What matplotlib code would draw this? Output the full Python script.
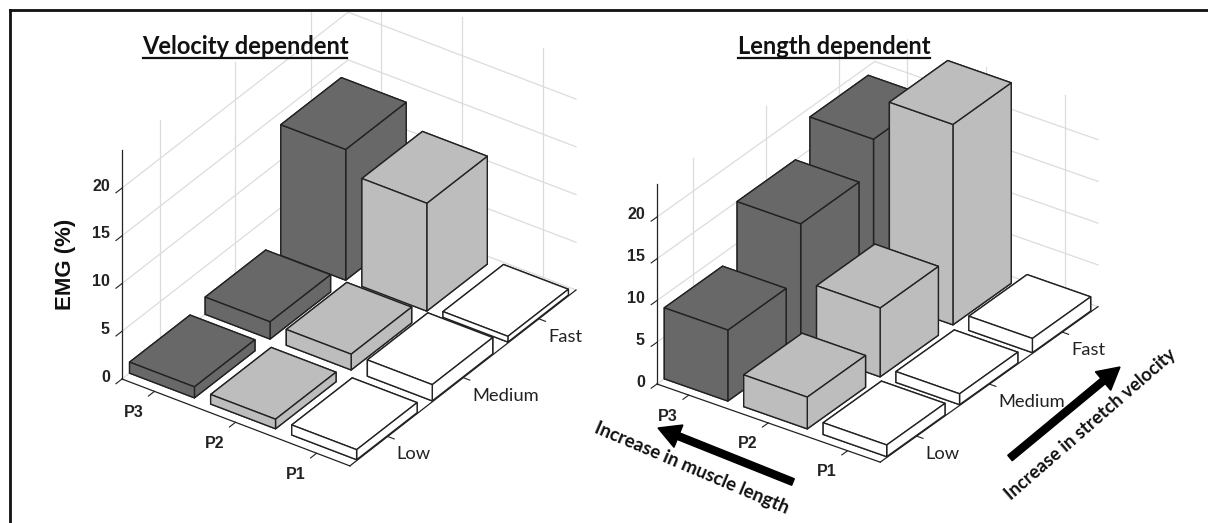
import matplotlib
matplotlib.use("Agg")
import matplotlib.pyplot as plt
from matplotlib.patches import Rectangle, FancyArrow
from mpl_toolkits.mplot3d import Axes3D, proj3d

W, H = 1208, 523

positions = ["P3", "P2", "P1"]
velocities = ["Low", "Medium", "Fast"]
z_ticks = [0, 5, 10, 15, 20]

# rows are P3, P2, P1 / columns are Low, Medium, Fast
velocity_emg = [[1.15, 1.8, 13.7],
                [1.0, 1.65, 11.3],
                [1.05, 1.7, 0.6]]
length_emg = [[8.5, 15.0, 18.9],
              [3.8, 8.25, 24.0],
              [1.4, 1.3, 1.7]]

row_colors = ["#686868", "#bdbdbd", "#ffffff"]
grid_color = "#dcdcdc"

XLIM = (0.6, 3.41)
YLIM = (0.5, 3.49)
ZLIM = (0, 24)
NUM_FONT = ["Liberation Sans Narrow", "Liberation Sans"]


def to_px(ax, x, y, z):
    xp, yp, _ = proj3d.proj_transform(x, y, z, ax.get_proj())
    return ax.transData.transform((xp, yp))


def fit_axes(ax, left_px, right_px):
    # move and scale the square 3d axes so the floor corners land on the wanted pixels
    fig.canvas.draw()
    a = to_px(ax, XLIM[0], YLIM[0], 0)
    c = to_px(ax, XLIM[1], YLIM[1], 0)
    k = (right_px[0] - left_px[0]) / (c[0] - a[0])
    size = ax.get_position().width * W * k
    ax.set_position([0, 0, size / W, size / H])
    fig.canvas.draw()
    a = to_px(ax, XLIM[0], YLIM[0], 0)
    pos = ax.get_position()
    dx = left_px[0] - a[0]
    dy = (H - left_px[1]) - a[1]
    ax.set_position([pos.x0 + dx / W, pos.y0 + dy / H, pos.width, pos.height])
    fig.canvas.draw()


def label_at(ax, x, y, z, dx, dy, s, **kw):
    # tick labels sit at a pixel offset from their place on the 3d axis
    p = to_px(ax, x, y, z)
    fig.text((p[0] + dx) / W, (p[1] - dy) / H, s, va="center", color="#222222", zorder=7, **kw)


def draw_panel(rect, heights, elev, lengths, left_px, right_px):
    ax = fig.add_axes(rect, projection="3d", proj_type="ortho", computed_zorder=False)
    ax.view_init(elev=elev, azim=-55)
    ax.set_box_aspect(lengths)
    ax.set_xlim(*XLIM)
    ax.set_ylim(*YLIM)
    ax.set_zlim(*ZLIM)
    ax.set_axis_off()
    ax.patch.set_alpha(0)

    xpos = [1, 2, 3]
    ypos = [1, 2, 3]
    tick = 0.08

    # walls
    for z in z_ticks:
        ax.plot([XLIM[0], XLIM[0]], YLIM, [z, z], color=grid_color, lw=0.9, zorder=1, clip_on=False)
        ax.plot(XLIM, [YLIM[1], YLIM[1]], [z, z], color=grid_color, lw=0.9, zorder=1, clip_on=False)
    for y in ypos:
        ax.plot([XLIM[0]] * 2, [y, y], ZLIM, color=grid_color, lw=0.9, zorder=1, clip_on=False)
    for x in xpos:
        ax.plot([x, x], [YLIM[1]] * 2, ZLIM, color=grid_color, lw=0.9, zorder=1, clip_on=False)

    # axis lines in front
    ax.plot([XLIM[0]] * 2, [YLIM[0]] * 2, ZLIM, color="#222222", lw=0.9, zorder=2, clip_on=False)
    ax.plot(XLIM, [YLIM[0]] * 2, [0, 0], color="#222222", lw=0.9, zorder=2, clip_on=False)
    ax.plot([XLIM[1]] * 2, YLIM, [0, 0], color="#222222", lw=0.9, zorder=2, clip_on=False)

    for z in z_ticks:
        ax.plot([XLIM[0]] * 2, [YLIM[0] - tick, YLIM[0]], [z, z], color="#222222", lw=0.8, zorder=2, clip_on=False)
    for x in xpos:
        ax.plot([x, x], [YLIM[0] - tick, YLIM[0]], [0, 0], color="#222222", lw=0.8, zorder=2, clip_on=False)
    for y in ypos:
        ax.plot([XLIM[1], XLIM[1] + tick], [y, y], [0, 0], color="#222222", lw=0.8, zorder=2, clip_on=False)

    # bars go back to front so they overlap properly
    order = 3
    for i, x in enumerate(xpos):
        for j in [2, 1, 0]:
            bars = ax.bar3d(x - 0.4, ypos[j] - 0.4, 0, 0.8, 0.8, heights[i][j],
                            color=row_colors[i], edgecolor="#222222", linewidth=1,
                            shade=False, zorder=order)
            bars.set_clip_on(False)
            order += 1

    fit_axes(ax, left_px, right_px)

    for z in z_ticks:
        label_at(ax, XLIM[0], YLIM[0], z, -12, -2, str(z), ha="right", fontsize=11.5,
                 family=NUM_FONT, weight="bold")
    for x, name in zip(xpos, positions):
        label_at(ax, x, YLIM[0], 0, -21, 21, name, ha="center", fontsize=11.5,
                 family=NUM_FONT, weight="bold")
    for y, name in zip(ypos, velocities):
        label_at(ax, XLIM[1], y, 0, 9, 18, name, ha="left", fontsize=13.2, family="Lato")
    return ax


fig = plt.figure(figsize=(W / 100, H / 100), dpi=100)
fig.patch.set_facecolor("white")

draw_panel([0, 0, 0.4, 0.9], velocity_emg, 33, (278, 394, 273), (122, 379), (576, 290))
draw_panel([0.5, 0, 0.4, 0.9], length_emg, 30, (272, 379, 231), (657, 384), (1098, 308))

# mask what runs above the top rule, then the top and left rules
fig.add_artist(Rectangle((0, 1 - 9 / H), 1, 9 / H, transform=fig.transFigure, color="white", zorder=5))
fig.add_artist(plt.Line2D([9.5 / W, 1], [1 - 9.5 / H] * 2, color="#111111", lw=2, zorder=6))
fig.add_artist(plt.Line2D([9.5 / W] * 2, [0, 1 - 9.5 / H], color="#111111", lw=2, zorder=6))


def px_text(x, y, s, **kw):
    fig.text(x / W, 1 - y / H, s, ha="center", va="center", zorder=7, **kw)


px_text(245, 47, "Velocity dependent", fontsize=17, family="Lato", weight="bold", color="#111111")
px_text(834, 47, "Length dependent", fontsize=17, family="Lato", weight="bold", color="#111111")
fig.add_artist(plt.Line2D([143 / W, 347 / W], [1 - 58 / H] * 2, color="#111111", lw=1.6, zorder=7))
fig.add_artist(plt.Line2D([738 / W, 930 / W], [1 - 58 / H] * 2, color="#111111", lw=1.6, zorder=7))

px_text(65, 264, "EMG (%)", fontsize=16, family="Liberation Sans", weight="bold", rotation=90, color="#111111")
px_text(692, 468, "Increase in muscle length", fontsize=13.5, family="Lato", weight="bold",
        rotation=-23, color="#111111")
px_text(1091, 424, "Increase in stretch velocity", fontsize=13.2, family="Lato", weight="bold",
        rotation=41, color="#111111")

# the two black arrows, in pixels of the figure
arrow_ax = fig.add_axes([0, 0, 1, 1], zorder=8)
arrow_ax.set_xlim(0, W)
arrow_ax.set_ylim(H, 0)
arrow_ax.axis("off")
arrow_ax.add_patch(FancyArrow(793, 482, -135, -54, width=7, head_width=24, head_length=22,
                              length_includes_head=True, color="black"))
arrow_ax.add_patch(FancyArrow(1010, 458, 110, -91, width=7, head_width=24, head_length=22,
                              length_includes_head=True, color="black"))

fig.savefig("out.png", dpi=100)
